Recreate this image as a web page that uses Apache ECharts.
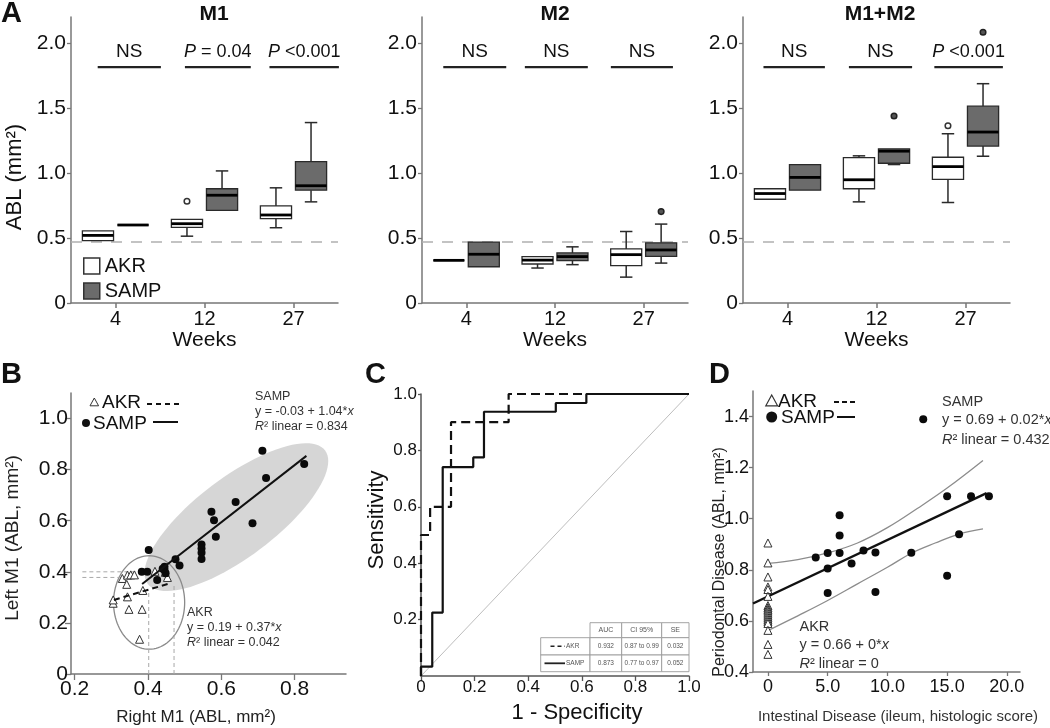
<!DOCTYPE html>
<html><head><meta charset="utf-8">
<script src="https://cdn.jsdelivr.net/npm/echarts@6/dist/echarts.min.js"></script>
<style>html,body{margin:0;padding:0;background:#fff}#c{width:1050px;height:728px}</style>
</head><body><div id="c"></div>
<script>
// ---------------- DATA ----------------
const weeks = ['4', '12', '27'];
// box stats: [min, Q1, median, Q3, max]
const m1AKR  = [[0.48, 0.48, 0.52, 0.555, 0.555], [0.514, 0.581, 0.61, 0.643, 0.643], [0.579, 0.649, 0.677, 0.747, 0.886]];
const m1SAMP = [[0.60, 0.60, 0.60, 0.60, 0.60], [0.713, 0.713, 0.829, 0.879, 1.016], [0.778, 0.868, 0.902, 1.088, 1.388]];
const m2AKR  = [[0.328, 0.328, 0.328, 0.328, 0.328], [0.269, 0.30, 0.33, 0.357, 0.357], [0.199, 0.287, 0.372, 0.416, 0.55]];
const m2SAMP = [[0.279, 0.279, 0.375, 0.468, 0.468], [0.295, 0.326, 0.357, 0.385, 0.432], [0.307, 0.359, 0.408, 0.463, 0.607]];
const m12AKR  = [[0.798, 0.798, 0.842, 0.879, 0.879], [0.778, 0.879, 0.948, 1.119, 1.132], [0.773, 0.951, 1.049, 1.121, 1.302]];
const m12SAMP = [[0.868, 0.868, 0.966, 1.065, 1.065], [1.065, 1.075, 1.168, 1.186, 1.186], [1.129, 1.207, 1.315, 1.514, 1.687]];
// outliers: [week index, value]
const m1AKROut = [[1, 0.783]];
const m1SAMPOut = [];
const m2AKROut = [];
const m2SAMPOut = [[2, 0.703]];
const m12AKROut = [[2, 1.364]];
const m12SAMPOut = [[1, 1.439], [2, 2.083]];
const m1Tests = ['NS', 'P = 0.04', 'P <0.001'];
const m2Tests = ['NS', 'NS', 'NS'];
const m12Tests = ['NS', 'NS', 'P <0.001'];
const panelTitles = ['M1', 'M2', 'M1+M2'];
const ablRef = 0.475;
const testLevel = 1.815;
const yTicksA = [0, 0.5, 1.0, 1.5, 2.0];

// Panel B
const bAkrX = [0.330, 0.344, 0.353, 0.363, 0.342, 0.344, 0.305, 0.305, 0.348, 0.384, 0.377, 0.386, 0.419, 0.453, 0.447];
const bAkrY = [0.374, 0.387, 0.388, 0.388, 0.351, 0.302, 0.277, 0.290, 0.253, 0.253, 0.136, 0.327, 0.402, 0.378, 0.398];
const bSampX = [0.402, 0.383, 0.398, 0.425, 0.445, 0.445, 0.448, 0.440, 0.475, 0.486, 0.546, 0.546, 0.546, 0.546, 0.573, 0.580, 0.585, 0.639, 0.685, 0.712, 0.722, 0.826];
const bSampY = [0.485, 0.400, 0.400, 0.368, 0.420, 0.407, 0.394, 0.412, 0.449, 0.425, 0.507, 0.491, 0.475, 0.450, 0.635, 0.602, 0.537, 0.673, 0.590, 0.874, 0.767, 0.822];
const bSampFitX = [0.384, 0.832], bSampFitY = [0.352, 0.854];
const bAkrFitX = [0.307, 0.46], bAkrFitY = [0.29, 0.355];
// ellipses: centre, end of one semi-axis, end of conjugate semi-axis
const bSampEllipse = [0.641, 0.614, 0.883, 0.875, 0.576, 0.739];
const bAkrEllipse = [0.403, 0.28, 0.50, 0.28, 0.403, 0.463];
const bGuides = [[[0.221, 0.400], [0.388, 0.400]], [[0.221, 0.378], [0.331, 0.378]], [[0.402, 0], [0.402, 0.329]], [[0.471, 0], [0.471, 0.355]]];
const bXTicks = [0.2, 0.4, 0.6, 0.8];
const bYTicks = [0, 0.2, 0.4, 0.6, 0.8, 1.0];

// Panel C (ROC)
const rocSampFpr = [0, 0, 0.042, 0.081, 0.195, 0.235, 0.503, 0.617, 1.0];
const rocSampTpr = [0, 0.033, 0.225, 0.741, 0.775, 0.937, 0.968, 1.0, 1.0];
const rocAkrFpr = [0, 0, 0.034, 0.112, 0.327, 1.0];
const rocAkrTpr = [0, 0.5, 0.6, 0.9, 1.0, 1.0];
const cXTicks = [0, 0.2, 0.4, 0.6, 0.8, 1.0];
const cYTicks = [0.2, 0.4, 0.6, 0.8, 1.0];
const rocTableHead = ['AUC', 'CI 95%', 'SE'];
const rocTableAkr = ['0.932', '0.87 to 0.99', '0.032'];
const rocTableSamp = ['0.873', '0.77 to 0.97', '0.052'];

// Panel D
const dSampX = [4, 5, 5, 5, 6, 6, 6, 7, 8, 9, 9, 12, 15, 15, 16, 17, 18.5, 13];
const dSampY = [0.848, 0.866, 0.805, 0.709, 1.014, 0.934, 0.866, 0.825, 0.876, 0.868, 0.713, 0.867, 1.088, 0.777, 0.939, 1.088, 1.088, 1.389];
const dAkrY = [0.905, 0.827, 0.772, 0.733, 0.723, 0.696, 0.66, 0.652, 0.645, 0.638, 0.63, 0.622, 0.614, 0.606, 0.598, 0.59, 0.563, 0.508, 0.469];
const dFitX = [-1.25, 18.3], dFitY = [0.668, 1.10];
const dBandX = [0, 2.5, 5, 7.5, 10, 12.5, 15, 18];
const dBandUpper = [0.825, 0.84, 0.866, 0.905, 0.965, 1.04, 1.12, 1.228];
const dBandLowerX = [0, 2.5, 5, 7.5, 10, 12, 14, 16, 18];
const dBandLower = [0.562, 0.62, 0.68, 0.745, 0.81, 0.865, 0.905, 0.94, 0.96];
const dXTicks = [0, 5, 10, 15, 20];
const dYTicks = [0.4, 0.6, 0.8, 1.0, 1.2, 1.4];

// ---------------- STYLE / LAYOUT ----------------
const FONT = "'Liberation Sans', Arial, Helvetica, sans-serif";
const AX = '#777';
const INK = '#111';
const SAMP_FILL = '#6b6b6b';
const BOX_OFF = 0.197, BOX_W = 0.35;
const bracketSpan = [
  [[-0.2, 0.51], [-0.22, 0.52], [-0.27, 0.51]],
  [[-0.26, 0.45], [-0.34, 0.37], [-0.37, 0.33]],
  [[-0.27, 0.42], [-0.31, 0.40], [-0.35, 0.42]]
];

const zip = (a, b) => a.map((v, i) => [v, b[i]]);
const fmt1 = v => (v === 0 ? '0' : v.toFixed(1));

function txtStyle(o) {
  const s = {
    text: o.text, fontSize: o.size, fontFamily: FONT, fontWeight: o.bold ? 'bold' : 'normal',
    fill: o.color || INK, align: o.align || 'left', verticalAlign: o.va || 'middle',
    textAlign: o.align || 'left', textVerticalAlign: o.va || 'middle'
  };
  if (o.rich) s.rich = o.rich;
  return s;
}
function italicRich(size, color) {
  return { i: { fontStyle: 'italic', fontSize: size, fontFamily: FONT, fill: color || INK, color: color || INK } };
}
function gText(text, x, y, size, o) {
  o = o || {};
  return { type: 'text', x: x, y: y, rotation: o.rot || 0, z: 100, silent: true,
    style: txtStyle(Object.assign({ text: text, size: size }, o)) };
}

function boxRender(offset, fill) {
  return function (params, api) {
    const cat = api.value(0);
    const v = [api.value(1), api.value(2), api.value(3), api.value(4), api.value(5)];
    const bw = api.size([1, 0])[0];
    const cx = api.coord([cat, 0])[0] + offset * bw;
    const hw = bw * BOX_W / 2, cw = hw * 0.4;
    const y = v.map(val => api.coord([cat, val])[1]);
    const ln = { stroke: '#2a2a2a', lineWidth: 1.5 };
    const kids = [];
    if (y[0] - y[1] > 0.5) {
      kids.push({ type: 'line', shape: { x1: cx, y1: y[1], x2: cx, y2: y[0] }, style: ln });
      kids.push({ type: 'line', shape: { x1: cx - cw, y1: y[0], x2: cx + cw, y2: y[0] }, style: ln });
    }
    if (y[3] - y[4] > 0.5) {
      kids.push({ type: 'line', shape: { x1: cx, y1: y[3], x2: cx, y2: y[4] }, style: ln });
      kids.push({ type: 'line', shape: { x1: cx - cw, y1: y[4], x2: cx + cw, y2: y[4] }, style: ln });
    }
    kids.push({ type: 'rect', shape: { x: cx - hw, y: y[3], width: 2 * hw, height: Math.max(0, y[1] - y[3]) },
      style: { fill: fill, stroke: '#2a2a2a', lineWidth: 1.3 } });
    kids.push({ type: 'line', shape: { x1: cx - hw, y1: y[2], x2: cx + hw, y2: y[2] }, style: { stroke: '#000', lineWidth: 2.8 } });
    return { type: 'group', children: kids };
  };
}
function outRender(offset, fill, stroke) {
  return function (params, api) {
    const bw = api.size([1, 0])[0];
    const p = api.coord([api.value(0), api.value(1)]);
    return { type: 'circle', shape: { cx: p[0] + offset * bw, cy: p[1], r: 2.8 }, style: { fill: fill, stroke: stroke, lineWidth: 1.5 } };
  };
}
function bracketRender(panel, tests) {
  return function (params, api) {
    const i = params.dataIndex;
    const bw = api.size([1, 0])[0];
    const p = api.coord([api.value(0), api.value(1)]);
    const sp = bracketSpan[panel][i];
    const x1 = p[0] + sp[0] * bw, x2 = p[0] + sp[1] * bw;
    const lab = tests[i];
    const isP = lab.charAt(0) === 'P';
    const size = isP ? 18 : 19;
    const text = isP ? '{i|P}' + lab.slice(1) : lab;
    return { type: 'group', children: [
      { type: 'line', shape: { x1: x1, y1: p[1], x2: x2, y2: p[1] }, style: { stroke: '#222', lineWidth: 2.2 } },
      { type: 'text', x: (x1 + x2) / 2, y: p[1] - 6,
        style: txtStyle({ text: text, size: size, align: 'center', va: 'bottom', rich: isP ? italicRich(size) : null }) }
    ] };
  };
}
function ellipseRender(fill, stroke, lw) {
  return function (params, api) {
    const c = api.coord([api.value(0), api.value(1)]);
    const a = api.coord([api.value(2), api.value(3)]);
    const b = api.coord([api.value(4), api.value(5)]);
    const pts = [];
    for (let k = 0; k < 96; k++) {
      const t = 2 * Math.PI * k / 96;
      pts.push([c[0] + Math.cos(t) * (a[0] - c[0]) + Math.sin(t) * (b[0] - c[0]),
                c[1] + Math.cos(t) * (a[1] - c[1]) + Math.sin(t) * (b[1] - c[1])]);
    }
    return { type: 'polygon', shape: { points: pts }, style: { fill: fill, stroke: stroke, lineWidth: lw } };
  };
}

// ---------------- AXES ----------------
const grids = [
  { left: 71, top: 17, width: 267, height: 286 },
  { left: 422, top: 17, width: 266, height: 286 },
  { left: 743, top: 17, width: 267, height: 286 },
  { left: 71, top: 393, width: 275, height: 281 },
  { left: 421, top: 394, width: 268, height: 282 },
  { left: 753, top: 391, width: 267, height: 281 }
];
const axLine = { show: true, lineStyle: { color: AX, width: 1.5 } };
function valAxis(gi, min, max, ticks, fs, margin, tickLen, color) {
  const lc = color || AX;
  return {
    type: 'value', gridIndex: gi, min: min, max: max,
    axisLine: { show: true, onZero: false, lineStyle: { color: lc, width: 1.5 } },
    axisTick: { show: true, length: tickLen, customValues: ticks, lineStyle: { color: lc, width: 1.3 } },
    axisLabel: { show: true, customValues: ticks, formatter: fmt1, fontSize: fs, margin: margin, color: INK, fontFamily: FONT },
    splitLine: { show: false }
  };
}
const xAxes = [], yAxes = [];
for (let i = 0; i < 3; i++) {
  xAxes.push({
    type: 'category', gridIndex: i, data: weeks, boundaryGap: true,
    axisLine: axLine,
    axisTick: { show: true, alignWithLabel: true, length: 5, lineStyle: { color: AX, width: 1.5 } },
    axisLabel: { fontSize: 20, color: INK, margin: 6, fontFamily: FONT },
    name: 'Weeks', nameLocation: 'middle', nameGap: 27,
    nameTextStyle: { fontSize: 21, color: INK, fontFamily: FONT },
    splitLine: { show: false }
  });
  yAxes.push(valAxis(i, 0, 2.2, yTicksA, 21, 5, 4));
}
xAxes.push(valAxis(3, 0.19, 0.94, bXTicks, 21, 5, 6));
yAxes.push(valAxis(3, 0, 1.1, bYTicks, 21, 3, 6));
xAxes.push(valAxis(4, 0, 1, cXTicks, 17, 3, 5, '#555'));
yAxes.push(valAxis(4, 0, 1, cYTicks, 17, 4, 3, '#555'));
xAxes.push(valAxis(5, -1.25, 21.1, dXTicks, 18, 6, 4));
yAxes.push(valAxis(5, 0.4, 1.5, dYTicks, 18, 4, 4));

// ---------------- SERIES ----------------
const series = [];
const panels = [
  { akr: m1AKR, samp: m1SAMP, akrOut: m1AKROut, sampOut: m1SAMPOut, tests: m1Tests },
  { akr: m2AKR, samp: m2SAMP, akrOut: m2AKROut, sampOut: m2SAMPOut, tests: m2Tests },
  { akr: m12AKR, samp: m12SAMP, akrOut: m12AKROut, sampOut: m12SAMPOut, tests: m12Tests }
];
panels.forEach((p, i) => {
  series.push({ type: 'custom', name: 'AKR', xAxisIndex: i, yAxisIndex: i, clip: false, z: 3,
    renderItem: boxRender(-BOX_OFF, '#ffffff'), itemStyle: { color: '#ffffff' },
    data: p.akr.map((b, k) => [k].concat(b)), encode: { x: 0, y: [1, 2, 3, 4, 5] },
    markLine: { silent: true, symbol: ['none', 'none'], label: { show: false }, animation: false, z: 1,
      lineStyle: { type: [11, 9], color: '#b0b0b0', width: 1.6 }, data: [{ yAxis: ablRef }] } });
  series.push({ type: 'custom', name: 'SAMP', xAxisIndex: i, yAxisIndex: i, clip: false, z: 3,
    renderItem: boxRender(BOX_OFF, SAMP_FILL), itemStyle: { color: SAMP_FILL },
    data: p.samp.map((b, k) => [k].concat(b)), encode: { x: 0, y: [1, 2, 3, 4, 5] } });
  series.push({ type: 'custom', name: 'AKR outliers', xAxisIndex: i, yAxisIndex: i, clip: false, z: 4,
    renderItem: outRender(-BOX_OFF, '#ffffff', '#333'), data: p.akrOut, encode: { x: 0, y: 1 } });
  series.push({ type: 'custom', name: 'SAMP outliers', xAxisIndex: i, yAxisIndex: i, clip: false, z: 4,
    renderItem: outRender(BOX_OFF, '#555', '#222'), data: p.sampOut, encode: { x: 0, y: 1 } });
  series.push({ type: 'custom', name: 'tests', xAxisIndex: i, yAxisIndex: i, clip: false, z: 4,
    renderItem: bracketRender(i, p.tests), data: weeks.map((w, k) => [k, testLevel]), encode: { x: 0, y: 1 } });
});

// Panel B
series.push({ type: 'custom', name: 'SAMP region', xAxisIndex: 3, yAxisIndex: 3, z: 1, clip: false,
  renderItem: ellipseRender('#d6d6d6', null, 0), data: [bSampEllipse], encode: { x: [0, 2, 4], y: [1, 3, 5] } });
series.push({ type: 'custom', name: 'AKR region', xAxisIndex: 3, yAxisIndex: 3, z: 2, clip: false,
  renderItem: ellipseRender(null, '#8a8a8a', 1.3), data: [bAkrEllipse], encode: { x: [0, 2, 4], y: [1, 3, 5] } });
bGuides.forEach(seg => series.push({ type: 'line', xAxisIndex: 3, yAxisIndex: 3, data: seg, symbol: 'none', silent: true, z: 2,
  lineStyle: { color: '#a8a8a8', width: 1, type: [4, 3] } }));
series.push({ type: 'scatter', name: 'B AKR', xAxisIndex: 3, yAxisIndex: 3, data: zip(bAkrX, bAkrY), symbol: 'triangle', symbolSize: 8, z: 4,
  itemStyle: { color: '#ffffff', borderColor: '#333', borderWidth: 1, opacity: 1 } });
series.push({ type: 'scatter', name: 'B SAMP', xAxisIndex: 3, yAxisIndex: 3, data: zip(bSampX, bSampY), symbol: 'circle', symbolSize: 8, z: 4,
  itemStyle: { color: '#0a0a0a', opacity: 1 } });
series.push({ type: 'line', xAxisIndex: 3, yAxisIndex: 3, data: zip(bSampFitX, bSampFitY), symbol: 'none', z: 5, lineStyle: { color: '#111', width: 2 } });
series.push({ type: 'line', xAxisIndex: 3, yAxisIndex: 3, data: zip(bAkrFitX, bAkrFitY), symbol: 'none', z: 5, lineStyle: { color: '#111', width: 2, type: [6, 4] } });

// Panel C
series.push({ type: 'line', xAxisIndex: 4, yAxisIndex: 4, data: [[0, 0], [1, 1]], symbol: 'none', z: 2, lineStyle: { color: '#bdbdbd', width: 1 } });
series.push({ type: 'line', name: 'ROC AKR', xAxisIndex: 4, yAxisIndex: 4, data: zip(rocAkrFpr, rocAkrTpr), step: 'end', symbol: 'none', z: 4,
  lineStyle: { color: '#111', width: 2.2, type: [9, 5] } });
series.push({ type: 'line', name: 'ROC SAMP', xAxisIndex: 4, yAxisIndex: 4, data: zip(rocSampFpr, rocSampTpr), step: 'end', symbol: 'none', z: 4,
  lineStyle: { color: '#111', width: 2.2 } });

// Panel D
series.push({ type: 'line', xAxisIndex: 5, yAxisIndex: 5, data: zip(dBandX, dBandUpper), symbol: 'none', smooth: 0.4, z: 2, lineStyle: { color: '#8c8c8c', width: 1.3 } });
series.push({ type: 'line', xAxisIndex: 5, yAxisIndex: 5, data: zip(dBandLowerX, dBandLower), symbol: 'none', smooth: 0.4, z: 2, lineStyle: { color: '#8c8c8c', width: 1.3 } });
series.push({ type: 'line', xAxisIndex: 5, yAxisIndex: 5, data: zip(dFitX, dFitY), symbol: 'none', z: 3, lineStyle: { color: '#111', width: 2.4 } });
series.push({ type: 'scatter', name: 'D AKR', xAxisIndex: 5, yAxisIndex: 5, data: dAkrY.map(v => [0, v]), symbol: 'triangle', symbolSize: 8, z: 4,
  itemStyle: { color: '#ffffff', borderColor: '#333', borderWidth: 1, opacity: 1 } });
series.push({ type: 'scatter', name: 'D SAMP', xAxisIndex: 5, yAxisIndex: 5, data: zip(dSampX, dSampY), symbol: 'circle', symbolSize: 8, z: 4,
  itemStyle: { color: '#0a0a0a', opacity: 1 } });

// ---------------- GRAPHIC (titles, legends, table) ----------------
const G = [];
G.push(gText('A', 1, -1, 29, { bold: true, va: 'top' }));
G.push(gText('B', 1, 360, 29, { bold: true, va: 'top' }));
G.push(gText('C', 365, 360, 29, { bold: true, va: 'top' }));
G.push(gText('D', 709, 360, 29, { bold: true, va: 'top' }));
G.push(gText(panelTitles[0], 214, 14, 21, { bold: true, align: 'center' }));
G.push(gText(panelTitles[1], 555, 14, 21, { bold: true, align: 'center' }));
G.push(gText(panelTitles[2], 880, 14, 21, { bold: true, align: 'center' }));
G.push(gText('ABL (mm²)', 15, 177, 22, { align: 'center', rot: Math.PI / 2 }));
// B labels
G.push(gText('Left M1 (ABL, mm²)', 13, 538, 19, { align: 'center', rot: Math.PI / 2, color: '#222' }));
G.push(gText('Right M1 (ABL, mm²)', 196, 717, 17, { align: 'center', color: '#222' }));
G.push({ type: 'polygon', z: 100, shape: { points: [[94.3, 398], [98.6, 405.8], [90, 405.8]] }, style: { fill: '#fff', stroke: '#333', lineWidth: 1 } });
G.push(gText('AKR', 102, 403, 19));
G.push({ type: 'line', z: 100, shape: { x1: 147, y1: 404, x2: 180, y2: 404 }, style: { stroke: '#111', lineWidth: 2, lineDash: [5, 4] } });
G.push({ type: 'circle', z: 100, shape: { cx: 86, cy: 423, r: 4 }, style: { fill: '#111' } });
G.push(gText('SAMP', 93, 424, 19));
G.push({ type: 'line', z: 100, shape: { x1: 153, y1: 422, x2: 178, y2: 422 }, style: { stroke: '#111', lineWidth: 2 } });
G.push(gText('SAMP', 255, 397, 12.5, { color: '#333' }));
G.push(gText('y = -0.03 + 1.04*{i|x}', 255, 412, 12.5, { color: '#333', rich: italicRich(12.5, '#333') }));
G.push(gText('{i|R}² linear = 0.834', 255, 427, 12.5, { color: '#333', rich: italicRich(12.5, '#333') }));
G.push(gText('AKR', 187, 613, 12.5, { color: '#333' }));
G.push(gText('y = 0.19 + 0.37*{i|x}', 187, 628, 12.5, { color: '#333', rich: italicRich(12.5, '#333') }));
G.push(gText('{i|R}² linear = 0.042', 187, 643, 12.5, { color: '#333', rich: italicRich(12.5, '#333') }));
// C labels
G.push(gText('Sensitivity', 377, 520, 22, { align: 'center', rot: Math.PI / 2 }));
G.push(gText('1 - Specificity', 577, 713, 22, { align: 'center' }));
// C table
const tc = [540.7, 590, 621.7, 661.7, 689], tr = [622.7, 637.7, 655, 671.7];
const cell = (x0, y0, x1, y1) => ({ type: 'rect', z: 99, shape: { x: x0, y: y0, width: x1 - x0, height: y1 - y0 }, style: { fill: '#fff', stroke: '#9a9a9a', lineWidth: 0.9 } });
for (let c = 1; c < 4; c++) G.push(cell(tc[c], tr[0], tc[c + 1], tr[1]));
for (let r = 1; r < 3; r++) for (let c = 0; c < 4; c++) G.push(cell(tc[c], tr[r], tc[c + 1], tr[r + 1]));
for (let c = 1; c < 4; c++) G.push(gText(rocTableHead[c - 1], (tc[c] + tc[c + 1]) / 2, (tr[0] + tr[1]) / 2, 7, { align: 'center', color: '#555' }));
for (let c = 1; c < 4; c++) {
  G.push(gText(rocTableAkr[c - 1], (tc[c] + tc[c + 1]) / 2, (tr[1] + tr[2]) / 2, 6.5, { align: 'center', color: '#555' }));
  G.push(gText(rocTableSamp[c - 1], (tc[c] + tc[c + 1]) / 2, (tr[2] + tr[3]) / 2, 6.5, { align: 'center', color: '#555' }));
}
G.push({ type: 'line', z: 100, shape: { x1: 550.5, y1: 646.3, x2: 565, y2: 646.3 }, style: { stroke: '#222', lineWidth: 1.6, lineDash: [4, 3] } });
G.push(gText('AKR', 566, 646.3, 6.5, { color: '#555' }));
G.push({ type: 'line', z: 100, shape: { x1: 544.5, y1: 663.3, x2: 565, y2: 663.3 }, style: { stroke: '#222', lineWidth: 1.8 } });
G.push(gText('SAMP', 566, 663.3, 6.5, { color: '#555' }));
// D labels
G.push(gText('Periodontal Disease (ABL, mm²)', 719.5, 562, 16, { align: 'center', rot: Math.PI / 2, color: '#222' }));
G.push(gText('Intestinal Disease (ileum, histologic score)', 898, 717, 15, { align: 'center', color: '#333' }));
G.push({ type: 'polygon', z: 100, shape: { points: [[771.7, 395], [777.6, 405.8], [765.8, 405.8]] }, style: { fill: '#fff', stroke: '#333', lineWidth: 1.2 } });
G.push(gText('AKR', 778, 401.5, 19));
G.push({ type: 'line', z: 100, shape: { x1: 834, y1: 402, x2: 855, y2: 402 }, style: { stroke: '#111', lineWidth: 1.8, lineDash: [5, 3] } });
G.push({ type: 'circle', z: 100, shape: { cx: 771.7, cy: 417, r: 5.5 }, style: { fill: '#111' } });
G.push(gText('SAMP', 781, 417.5, 19));
G.push({ type: 'line', z: 100, shape: { x1: 837, y1: 417, x2: 855, y2: 417 }, style: { stroke: '#111', lineWidth: 2 } });
G.push(gText('SAMP', 942, 401.5, 14.5, { color: '#333' }));
G.push(gText('y = 0.69 + 0.02*{i|x}', 942, 420, 14.5, { color: '#333', rich: italicRich(14.5, '#333') }));
G.push(gText('{i|R}² linear = 0.432', 942, 440, 14.5, { color: '#333', rich: italicRich(14.5, '#333') }));
G.push(gText('AKR', 799.5, 626.5, 14.5, { color: '#333' }));
G.push(gText('y = 0.66 + 0*{i|x}', 799.5, 645, 14.5, { color: '#333', rich: italicRich(14.5, '#333') }));
G.push(gText('{i|R}² linear = 0', 799.5, 663.5, 14.5, { color: '#333', rich: italicRich(14.5, '#333') }));

const option = {
  animation: false,
  backgroundColor: '#ffffff',
  textStyle: { fontFamily: FONT },
  grid: grids,
  xAxis: xAxes,
  yAxis: yAxes,
  legend: [{
    data: [
      { name: 'AKR', icon: 'rect', itemStyle: { color: '#ffffff', borderColor: '#333', borderWidth: 1.5 } },
      { name: 'SAMP', icon: 'rect', itemStyle: { color: SAMP_FILL, borderColor: '#333', borderWidth: 1.5 } }
    ],
    orient: 'vertical', left: 78, top: 251, itemWidth: 16, itemHeight: 16, itemGap: 5, selectedMode: false,
    textStyle: { fontSize: 20, color: INK, fontFamily: FONT }
  }],
  graphic: { elements: G },
  series: series
};
const chart = echarts.init(document.getElementById('c'), null, { renderer: 'canvas' });
chart.setOption(option);
</script>
</body></html>
